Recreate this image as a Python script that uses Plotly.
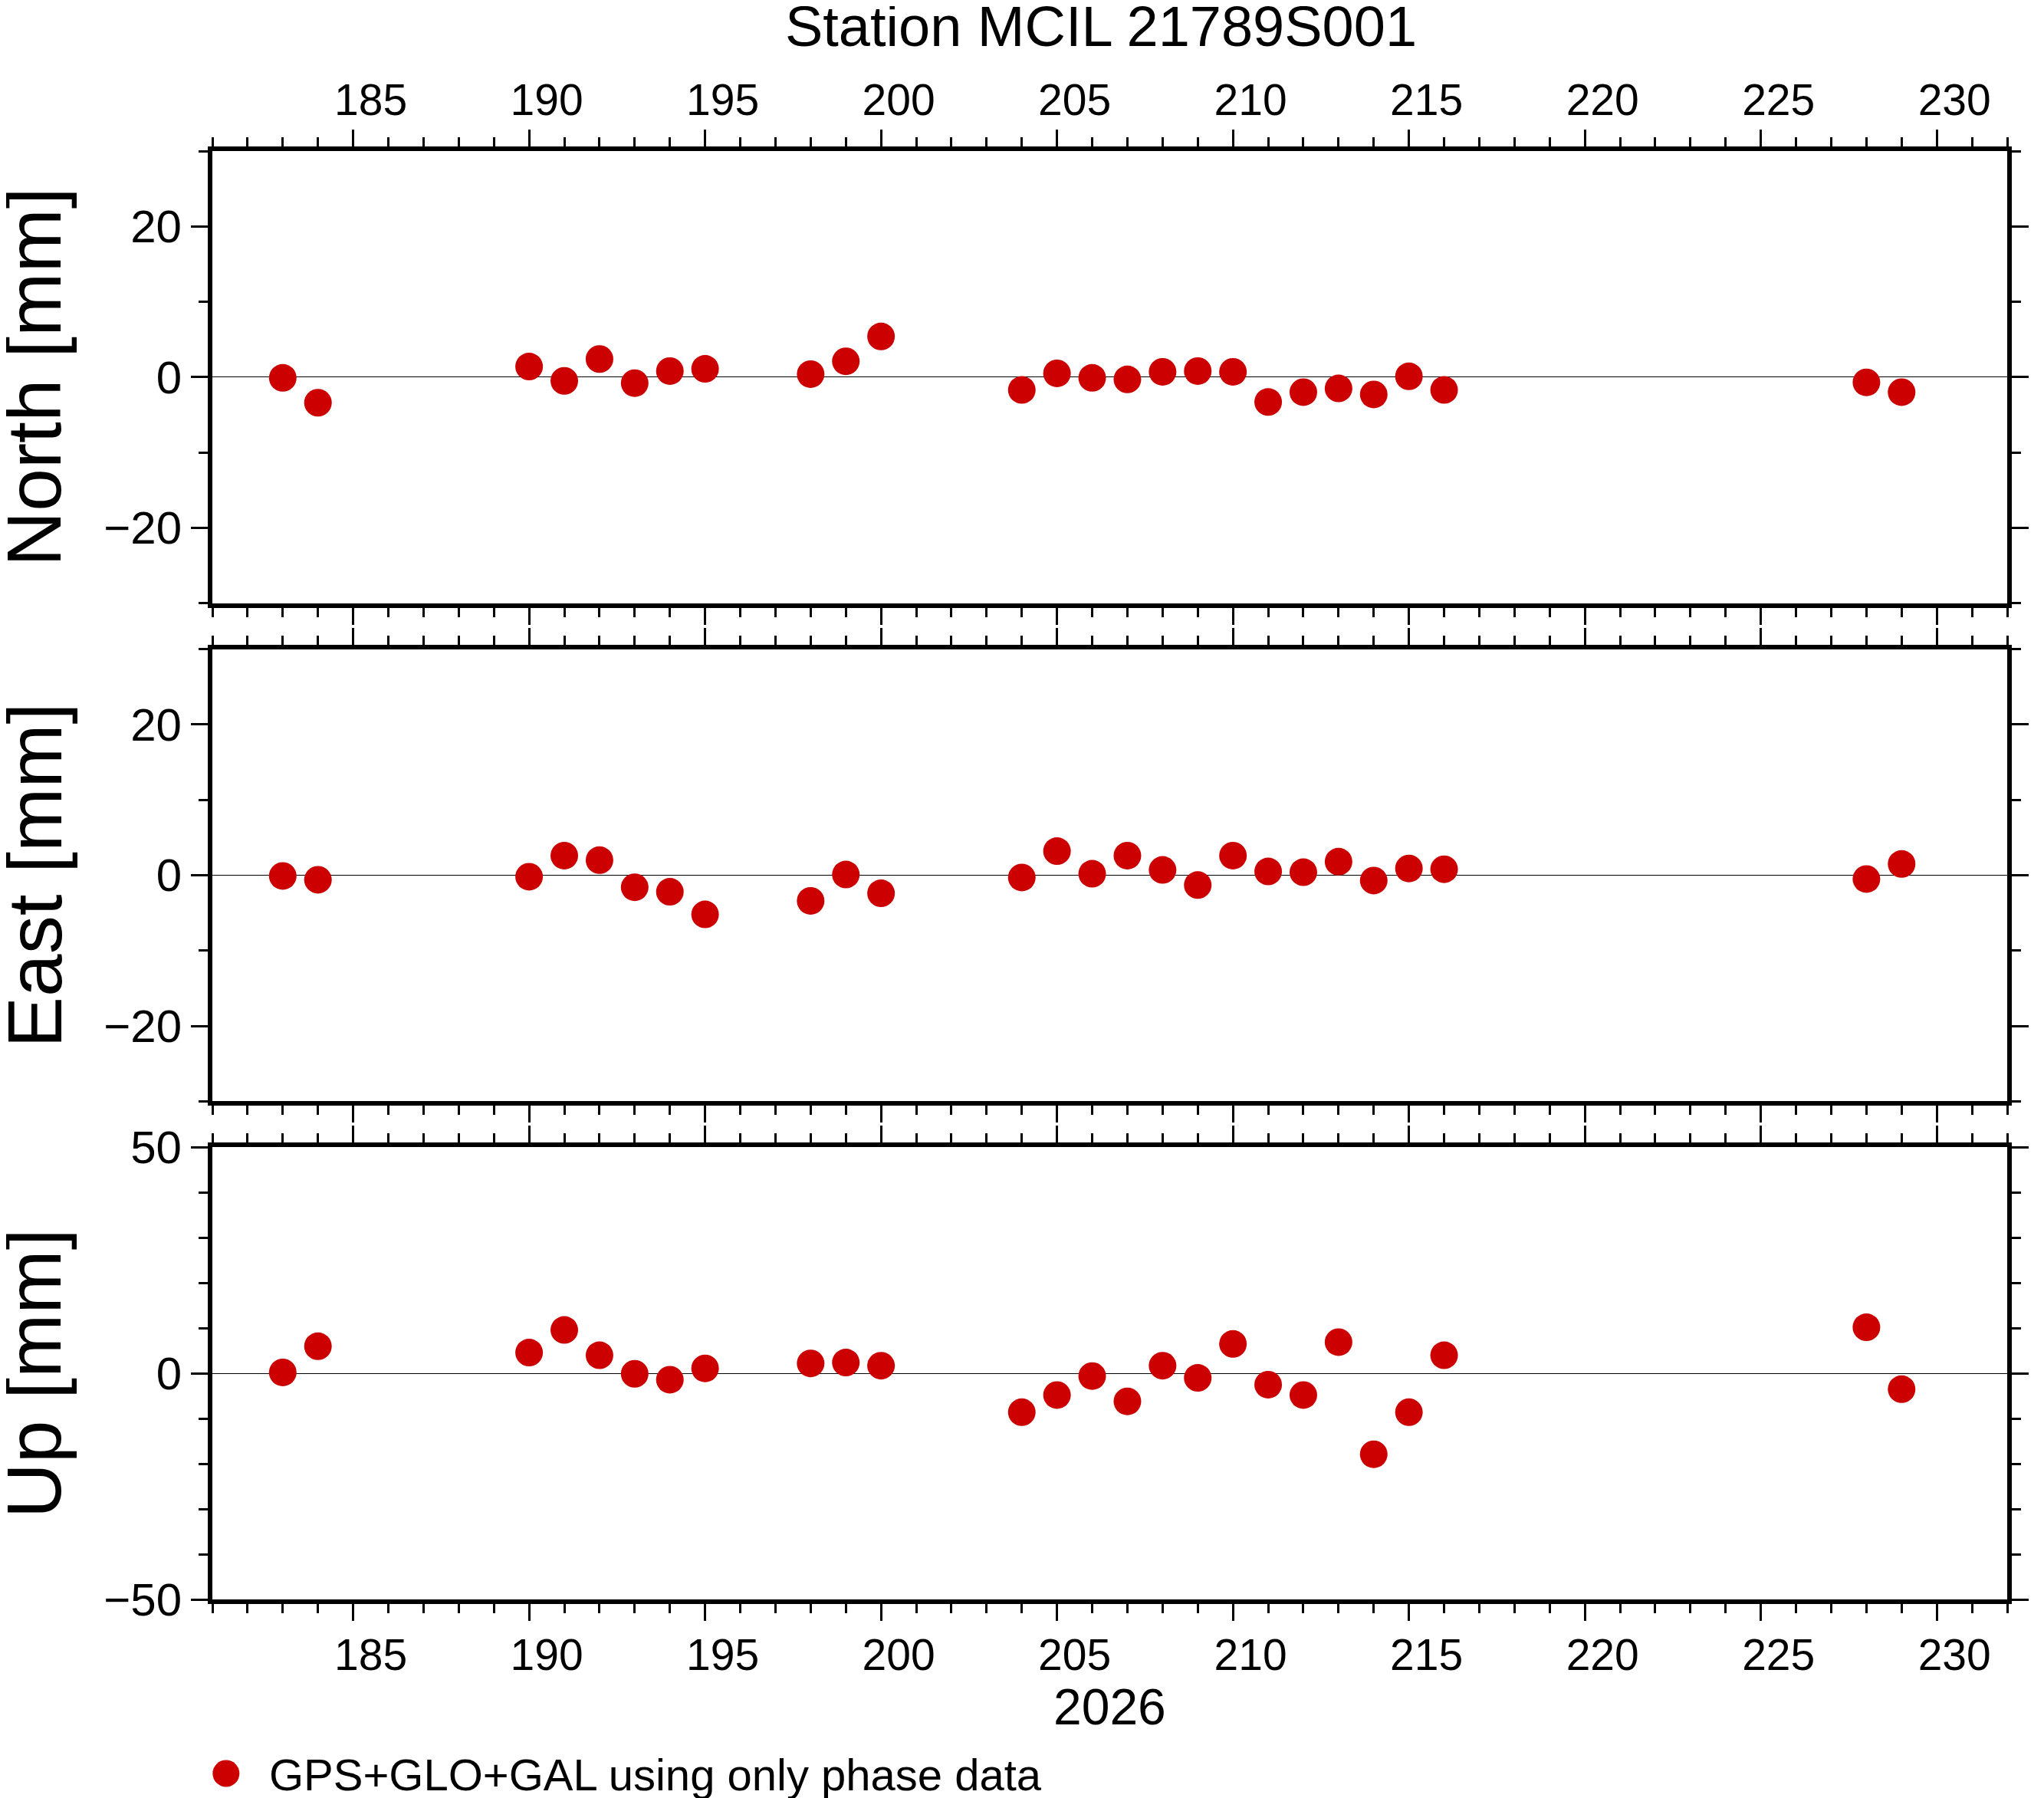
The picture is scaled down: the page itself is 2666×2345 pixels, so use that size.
import plotly.graph_objects as go
from plotly.subplots import make_subplots

# day of year 2026
days = [183, 184, 190, 191, 192, 193, 194, 195, 198, 199, 200,
        204, 205, 206, 207, 208, 209, 210, 211, 212, 213, 214, 215, 216,
        228, 229]

north = [-0.1, -3.4, 1.4, -0.5, 2.4, -0.8, 0.8, 1.1, 0.4, 2.1, 5.4,
         -1.7, 0.5, -0.1, -0.3, 0.7, 0.8, 0.7, -3.3, -2.0, -1.5, -2.3, 0.1, -1.7,
         -0.7, -2.0]
east = [-0.1, -0.6, -0.2, 2.6, 2.0, -1.6, -2.2, -5.2, -3.4, 0.1, -2.4,
        -0.3, 3.2, 0.2, 2.6, 0.7, -1.3, 2.6, 0.5, 0.4, 1.8, -0.7, 0.9, 0.8,
        -0.5, 1.5]
up = [0.2, 6.0, 4.6, 9.6, 4.0, -0.1, -1.4, 1.1, 2.2, 2.4, 1.7,
      -8.6, -4.8, -0.6, -6.2, 1.7, -1.0, 6.5, -2.5, -4.8, 6.9, -17.9, -8.6, 4.0,
      10.2, -3.5]

panel_names = ["North [mm]", "East [mm]", "Up [mm]"]
panel_ranges = [[-30, 30], [-30, 30], [-50, 50]]
panel_dticks = [20, 20, 50]
legend_label = "GPS+GLO+GAL using only phase data"
title_text = "Station MCIL 21789S001"
year_label = "2026"

# page body has an 8px margin, so the figure is drawn 8px in from the corner
OFF = 8
W, H = 2666 - 2 * OFF, 2345 - OFF
ML, MT = 277 - OFF, 197 - OFF
MR = W - (2640 - OFF)
MB = H - (2086 - OFF)
PW = W - ML - MR
PH = H - MT - MB          # plot area height in px
GAP = 60

FONT = "Liberation Sans"
RED = "#cc0000"


def px_x(x):
    # page pixel -> paper x
    return (x - OFF - ML) / PW


def px_y(y):
    # page pixel -> paper y
    return (H - MB - (y - OFF)) / PH


fig = make_subplots(rows=3, cols=1, vertical_spacing=GAP / PH)

for i, vals in enumerate([north, east, up]):
    fig.add_trace(go.Scatter(
        x=days, y=vals, mode="markers",
        marker=dict(color=RED, size=36, line=dict(width=0)),
        name=legend_label, showlegend=False
    ), row=i + 1, col=1)

axis_common = dict(
    showline=True, linewidth=6, linecolor="black", mirror="ticks",
    ticks="outside", ticklen=22, tickwidth=3, tickcolor="black",
    showgrid=False,
)

for i in range(3):
    r = i + 1
    fig.update_xaxes(
        range=[181, 232], tick0=185, dtick=5,
        minor=dict(dtick=1, ticks="outside", ticklen=12, tickwidth=3,
                   tickcolor="black", showgrid=False),
        showticklabels=(i != 1), side="top" if i == 0 else "bottom",
        ticklabelshift=23, ticklabelstandoff=-4, zeroline=False,
        tickfont=dict(family=FONT, size=57, color="black"),
        **axis_common, row=r, col=1)
    fig.update_yaxes(
        range=panel_ranges[i], tick0=0, dtick=panel_dticks[i],
        minor=dict(dtick=10, ticks="outside", ticklen=12, tickwidth=3,
                   tickcolor="black", showgrid=False),
        zeroline=True, zerolinecolor="black", zerolinewidth=1,
        tickfont=dict(family=FONT, size=60, color="black"),
        **axis_common, row=r, col=1)

# y axis titles, centred on each panel
panel_h = (PH - 2 * GAP) / 3
for i, name in enumerate(panel_names):
    top_px = i * (panel_h + GAP)
    ymid = 1 - (top_px + panel_h / 2) / PH
    fig.add_annotation(
        text=name, textangle=-90, xref="paper", yref="paper",
        x=px_x(42), y=ymid, xanchor="center", yanchor="middle",
        showarrow=False, font=dict(family=FONT, size=100, color="black"))

# year label under the bottom axis
fig.add_annotation(
    text=year_label, xref="paper", yref="paper",
    x=px_x(1459), y=px_y(2226),
    xanchor="center", yanchor="middle", showarrow=False,
    font=dict(family=FONT, size=66, color="black"))

# legend entry drawn by hand (plotly caps legend marker size)
fig.add_shape(
    type="circle", xref="paper", yref="paper",
    xsizemode="pixel", ysizemode="pixel",
    xanchor=px_x(295), yanchor=px_y(2313),
    x0=-17.5, x1=17.5, y0=-17.5, y1=17.5,
    fillcolor=RED, line=dict(width=0))
fig.add_annotation(
    text=legend_label, xref="paper", yref="paper",
    x=px_x(350), y=px_y(2314),
    xanchor="left", yanchor="middle", showarrow=False,
    font=dict(family=FONT, size=58, color="black"))

fig.update_layout(
    width=W, height=H,
    margin=dict(l=ML, r=MR, t=MT, b=MB),
    paper_bgcolor="white", plot_bgcolor="white",
    showlegend=False,
    title=dict(text=title_text, x=(1436 - OFF) / W, xanchor="center",
               y=1 - (34 - OFF) / H, yanchor="middle", yref="container",
               font=dict(family=FONT, size=74, color="black")),
)

fig.write_html("out.html")
